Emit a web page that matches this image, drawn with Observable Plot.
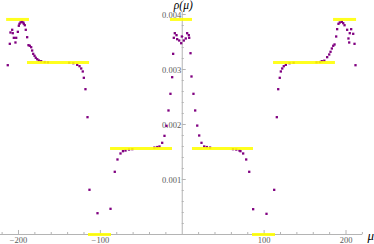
<!DOCTYPE html>
<html>
<head>
<meta charset="utf-8">
<script src="https://cdn.jsdelivr.net/npm/d3@7"></script>
<script src="https://cdn.jsdelivr.net/npm/@observablehq/plot@0.6"></script>
<style>
  html, body { margin: 0; padding: 0; background: #fff; }
  #chart svg { display: block; }
</style>
</head>
<body>
<div id="chart"></div>
<script>
// Purple sample points (mu, rho)
const pointMu = [
  -198.8,-197.5,-196.0,-194.2,-193.5,-192.3,-199.6,-207.7,-209.8,-207.0,-200.8,-191.1,-205.7,-202.8,-203.7,-210.6,-189.4,-213.1,
  -187.8,-186.2,-184.5,-183.3,-182.0,-180.4,-178.9,-177.1,-175.2,-172.3,-168,-164,
  -138,-133,-128.3,-125.5,-123.4,-121.5,-120.2,-118.2,-115.7,
  -113.3,-103.5,-87.6,-82.4,-79.1,-75.4,-72.4,-69.3,-65,-61,
  -34,-30.5,-27.8,-24.5,-21.7,-19.2,-16.8,-14.4,-12.3,-11.1,
  -9.1,-10.3,-6.2,-7.0,-3.7,-1.3,-0.5,1.9,4.3,6.0,8.0,8.5,10.1,11.3,
  13.7,15.8,18.3,20.7,23.5,26.8,30,34,
  62,66,69.9,71.1,74.4,78.1,81.8,86.6,102.9,112.3,
  115.5,117.2,119.1,120.4,122.1,124.0,126.5,131,136,
  164,168,170.4,173.5,177,179.5,181.1,182.7,184.4,186.0,188.0,189.2,190.8,192.4,194.9,196.6,198.2,201.4,206.3,204.6,208.8,203.0,210.4,203.9,211.6
];
const pointRho = [
  0.003831,0.003855,0.003867,0.003855,0.003831,0.003805,0.003795,0.003722,0.003673,0.00366,0.003685,0.003722,0.003576,0.003576,0.003491,0.003467,0.003587,0.003078,
  0.003442,0.003431,0.003405,0.003345,0.003285,0.003249,0.003213,0.003187,0.003164,0.003151,0.003135,0.00313,
  0.003122,0.003115,0.003085,0.00306,0.003018,0.002964,0.002849,0.002642,0.002133,
  0.000813,0.000387,0.000467,0.00114,0.001364,0.001473,0.001515,0.001527,0.001545,0.001552,
  0.00158,0.00159,0.0016,0.001667,0.001794,0.001976,0.002255,0.002558,0.00286,0.003285,
  0.00366,0.003576,0.003551,0.003624,0.003527,0.003478,0.0036,0.003527,0.003564,0.00366,0.003624,0.003576,0.003296,0.002873,
  0.002558,0.002255,0.00198,0.0018,0.001667,0.0016,0.00159,0.00158,
  0.001552,0.001545,0.001527,0.001515,0.001473,0.001364,0.00114,0.00046,0.000376,0.000812,
  0.002133,0.002642,0.002849,0.002964,0.003018,0.00306,0.003085,0.003115,0.003122,
  0.00313,0.003135,0.003151,0.00316,0.003224,0.003273,0.003322,0.003382,0.003431,0.003455,0.0036,0.003733,0.003831,0.003855,0.003867,0.003842,0.003805,0.003722,0.003733,0.00366,0.003649,0.003564,0.003467,0.003491,0.003078
];

// Yellow plateau levels
const levelStart = [-214.5,-189.0,-114.5,-87.6,-14.4,12.5,85.8,111.5,184.8];
const levelEnd   = [-186.6,-113.2,-86.4,-11.9,12.5,87.0,113.9,187.1,212.9];
const levelRho   = [0.00391,0.003127,0,0.001564,0.00391,0.001564,0,0.003127,0.00391];

// Ticks
const xTicks = [-200,-100,100,200];
const xTickLabels = ["\u2212200","\u2212100","100","200"];
const yTicks = [0.001,0.002,0.003,0.004];
const yTickLabels = ["0.001","0.002","0.003","0.004"];
const xMinor = [-220,-180,-160,-140,-120,-80,-60,-40,-20,20,40,60,80,120,140,160,180,220];
const yMinor = [0.0002,0.0004,0.0006,0.0008,0.0012,0.0014,0.0016,0.0018,0.0022,0.0024,0.0026,0.0028,0.0032,0.0034,0.0036,0.0038];
const xLabel = "\u03bc";
const yLabel = "\u03c1(\u03bc)";

const points = pointMu.map((m, i) => ({mu: m, rho: pointRho[i]}));
const levels = levelRho.map((r, i) => ({x1: levelStart[i], x2: levelEnd[i], rho: r}));

const xTop = 220.5;   // end of horizontal axis
const yTop = 0.00404; // end of vertical axis
const pxX = 1 / 0.8188;   // data units per pixel in x
const pxY = 1 / 55000;    // data units per pixel in y

const serif = "'Liberation Serif', 'DejaVu Serif', serif";
const axisColor = "#b4b4b4";

const chart = Plot.plot({
  width: 374,
  height: 244,
  marginLeft: 0,
  marginRight: 0,
  marginTop: 0,
  marginBottom: 10,
  x: {domain: [-221.97, 234.8], axis: null},
  y: {domain: [0, 0.0042545], axis: null},
  style: {background: "#fff", fontFamily: serif},
  marks: [
    // axes
    Plot.ruleY([0], {x1: -222, x2: xTop, stroke: axisColor, strokeWidth: 1}),
    Plot.ruleX([0], {y1: 0, y2: yTop, stroke: axisColor, strokeWidth: 1}),
    // x ticks (upward)
    Plot.ruleX(xTicks, {x: d => d, y1: 0, y2: 4 * pxY, stroke: axisColor}),
    Plot.ruleX(xMinor, {x: d => d, y1: 0, y2: 2 * pxY, stroke: axisColor}),
    // y ticks (to the right)
    Plot.ruleY(yTicks, {y: d => d, x1: 0, x2: 4 * pxX, stroke: axisColor}),
    Plot.ruleY(yMinor, {y: d => d, x1: 0, x2: 2 * pxX, stroke: axisColor}),
    // tick labels
    Plot.text(xTicks, {x: d => d, y: 0, text: (d, i) => xTickLabels[i], dy: 6, fontSize: 8.5, fill: "#5a5a5a", lineAnchor: "middle"}),
    Plot.text(yTicks, {x: 0, y: d => d, text: (d, i) => yTickLabels[i], dx: -1, dy: 0.5, textAnchor: "end", fontSize: 8.5, fill: "#5a5a5a", lineAnchor: "middle"}),
    // points
    Plot.dot(points, {x: "mu", y: "rho", symbol: "square", r: 1.3, fill: "#800080", stroke: "none"}),
    // plateau levels
    Plot.ruleY(levels, {x1: "x1", x2: "x2", y: "rho", stroke: "#ffff00", strokeWidth: 3, strokeOpacity: 0.88}),
    // axis labels
    Plot.text([yLabel], {x: 0, y: 0.0042545, text: d => d, dx: 1, dy: 0, fontSize: 11.5, fontStyle: "italic", fill: "#000", lineAnchor: "top"}),
    Plot.text([xLabel], {x: 226.2, y: 0, text: d => d, textAnchor: "start", dy: 1, fontSize: 13, fontStyle: "italic", fill: "#000", lineAnchor: "middle"})
  ]
});
document.getElementById("chart").appendChild(chart);
</script>
</body>
</html>
